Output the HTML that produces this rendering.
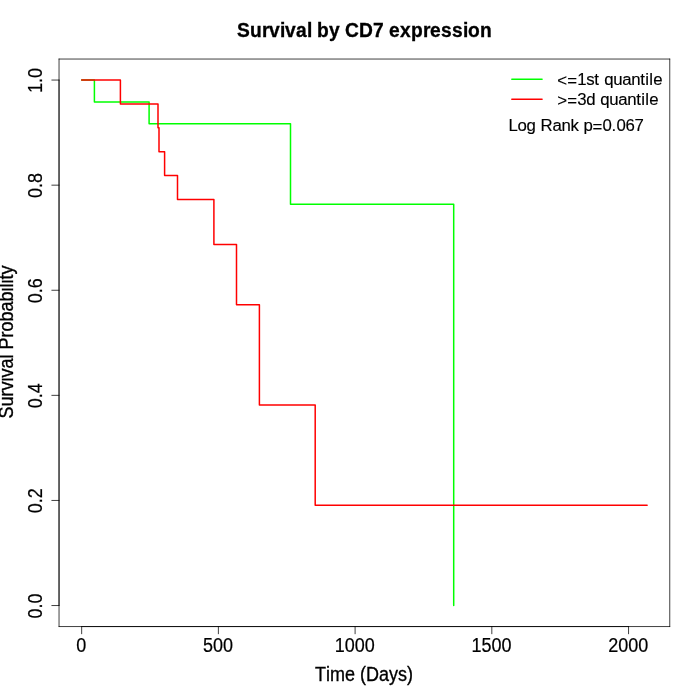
<!DOCTYPE html>
<html lang="en"><head><meta charset="utf-8"><title>Survival by CD7 expression</title>
<style>html,body{margin:0;padding:0;background:#fff}body{width:700px;height:700px;overflow:hidden}svg{display:block}text{white-space:pre}</style></head>
<body>
<svg width="700" height="700" viewBox="0 0 700 700" font-family="'Liberation Sans', Arial, Helvetica, sans-serif" fill="#000">
<rect width="700" height="700" fill="#fff"/>
<g fill="none" stroke="#000" stroke-width="0.75" stroke-linecap="round" stroke-linejoin="round">
<path d="M81.66 626.56H628.55M81.66 626.56v7.2M218.38 626.56v7.2M355.10 626.56v7.2M491.82 626.56v7.2M628.55 626.56v7.2"/>
<path d="M59.04 605.54V80.06M59.04 605.54h-7.2M59.04 500.44h-7.2M59.04 395.35h-7.2M59.04 290.25h-7.2M59.04 185.16h-7.2M59.04 80.06h-7.2"/>
<path d="M59.04 59.04H669.76"/><path d="M669.76 59.04V626.56"/><path d="M669.76 626.56H59.04"/><path d="M59.04 626.56V59.04"/>
</g>
<text transform="translate(81.66 651.75) scale(1 1.09)" x="-5.40" y="0" font-size="18" stroke="#000" stroke-width="0.2" stroke-linejoin="miter">0</text>
<text transform="translate(218.38 651.75) scale(1 1.09)" x="-15.40 -5.40 4.60" y="0" font-size="18" stroke="#000" stroke-width="0.2" stroke-linejoin="miter">500</text>
<text transform="translate(355.10 651.75) scale(1 1.09)" x="-20.40 -10.40 -0.40 9.60" y="0" font-size="18" stroke="#000" stroke-width="0.2" stroke-linejoin="miter">1000</text>
<text transform="translate(491.82 651.75) scale(1 1.09)" x="-20.40 -10.40 -0.40 9.60" y="0" font-size="18" stroke="#000" stroke-width="0.2" stroke-linejoin="miter">1500</text>
<text transform="translate(628.55 651.75) scale(1 1.09)" x="-20.40 -10.40 -0.40 9.60" y="0" font-size="18" stroke="#000" stroke-width="0.2" stroke-linejoin="miter">2000</text>
<text transform="translate(41.75 605.54) rotate(-90) scale(1 1.09)" x="-12.90 -2.90 2.10" y="0" font-size="18" stroke="#000" stroke-width="0.2" stroke-linejoin="miter">0.0</text>
<text transform="translate(41.75 500.44) rotate(-90) scale(1 1.09)" x="-12.90 -2.90 2.10" y="0" font-size="18" stroke="#000" stroke-width="0.2" stroke-linejoin="miter">0.2</text>
<text transform="translate(41.75 395.35) rotate(-90) scale(1 1.09)" x="-12.90 -2.90 2.10" y="0" font-size="18" stroke="#000" stroke-width="0.2" stroke-linejoin="miter">0.4</text>
<text transform="translate(41.75 290.25) rotate(-90) scale(1 1.09)" x="-12.90 -2.90 2.10" y="0" font-size="18" stroke="#000" stroke-width="0.2" stroke-linejoin="miter">0.6</text>
<text transform="translate(41.75 185.16) rotate(-90) scale(1 1.09)" x="-12.90 -2.90 2.10" y="0" font-size="18" stroke="#000" stroke-width="0.2" stroke-linejoin="miter">0.8</text>
<text transform="translate(41.75 80.06) rotate(-90) scale(1 1.09)" x="-12.90 -2.90 2.10" y="0" font-size="18" stroke="#000" stroke-width="0.2" stroke-linejoin="miter">1.0</text>
<g fill="none" stroke-width="1.5" stroke-linecap="round" stroke-linejoin="round">
<path d="M81.66 80.06H94.40V101.95H149.10V123.85H290.50V204.13H453.70V605.54" stroke="#0f0"/>
<path d="M81.66 80.06H120.40V103.94H158.00V127.83H159.00V151.72H164.60V175.60H177.50V199.49H213.90V244.60H236.50V304.76H259.40V405.02H315.20V505.28H647.14" stroke="#f00"/>
<path d="M511.84 79.2H542.0799999999999" stroke="#0f0"/>
<path d="M511.84 99.36H542.0799999999999" stroke="#f00"/>
</g>
<text transform="translate(364.40 36.63) scale(1 1.09)" x="-127.50 -114.50 -102.50 -95.50 -84.50 -79.50 -68.50 -57.50 -52.50 -47.50 -35.50 -24.50 -19.50 -5.50 8.50 19.50 24.50 35.50 46.50 58.50 65.50 76.50 87.50 98.50 103.50 115.50" y="0" font-size="19.2" font-weight="bold" stroke="#000" stroke-width="0.3" stroke-linejoin="miter">Survival by CD7 expression</text>
<text transform="translate(364.40 680.83) scale(1 1.085)" x="-49.50 -38.50 -34.50 -19.50 -9.50 -4.50 1.50 14.50 24.50 33.50 42.50" y="0" font-size="18" stroke="#000" stroke-width="0.3" stroke-linejoin="miter">Time (Days)</text>
<text transform="translate(12.85 342.80) rotate(-90) scale(1 1.075)" x="-75.80 -63.80 -53.80 -47.80 -38.80 -34.80 -25.80 -15.80 -11.80 -6.80 5.20 11.20 21.20 31.20 41.20 51.20 55.20 59.20 63.20 68.20" y="0" font-size="18" stroke="#000" stroke-width="0.3" stroke-linejoin="miter">Survival Probability</text>
<text transform="translate(557.20 84.85) scale(1 1.025)" x="0.00 10.00 20.00 29.00 37.00 42.00 47.00 56.00 65.00 74.00 83.00 88.00 92.00 96.00" y="1.3 1.3 0 0 0 0 0 0 0 0 0 0 0 0" font-size="16.8" stroke="#000" stroke-width="0.15" stroke-linejoin="miter">&lt;=1st quantile</text>
<text transform="translate(557.20 104.85) scale(1 1.025)" x="0.00 10.00 20.00 29.00 38.00 43.00 52.00 61.00 70.00 79.00 84.00 88.00 92.00" y="1.3 1.3 0 0 0 0 0 0 0 0 0 0 0" font-size="16.8" stroke="#000" stroke-width="0.15" stroke-linejoin="miter">&gt;=3d quantile</text>
<text transform="translate(508.50 130.85) scale(1 1.025)" x="0.00 9.00 18.00 27.00 32.00 44.00 53.00 62.00 70.00 75.00 84.00 94.00 103.00 108.00 117.00 126.00" y="0 0 0 0 0 0 0 0 0 0 1.3 0 0 0 0 0" font-size="16.8" stroke="#000" stroke-width="0.15" stroke-linejoin="miter">Log Rank p=0.067</text>
</svg>
</body></html>
